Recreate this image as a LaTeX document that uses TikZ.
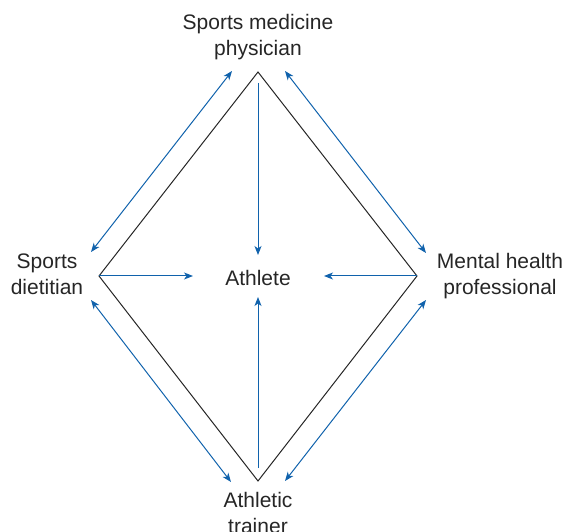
\documentclass[tikz,border=0pt]{standalone}
\usepackage{fontspec}
\setmainfont{Liberation Sans}
\usepackage{tikz}
\usetikzlibrary{arrows.meta}
\definecolor{linkcolor}{RGB}{16,98,172}

\tikzset{
  role/.style={align=center, inner sep=0pt, text=black!85,
    font=\fontsize{21}{26}\selectfont},
  link/.style={linkcolor, line width=1pt,
    -{Stealth[length=9pt,width=7pt,inset=2.5pt]}},
  twoway/.style={link, {Stealth[length=9pt,width=7pt,inset=2.5pt]}-{Stealth[length=9pt,width=7pt,inset=2.5pt]}}
}

\begin{document}
\begin{tikzpicture}[x=1pt,y=-1pt]
    \useasboundingbox (0,0) rectangle (566,532);
    % corners of the diamond
    \coordinate (top) at (258,72);
    \coordinate (left) at (99,276);
    \coordinate (right) at (417,276);
    \coordinate (bottom) at (258,481);
    \draw[black!85, line width=1pt, line join=miter] (top) -- (right) -- (bottom) -- (left) -- cycle;
    % the team around the athlete
    \node[role] (physician) at (258,37.5) {Sports medicine\\physician};
    \node[role] (dietitian) at (47,274.4) {Sports\\dietitian};
    \node[role] (mental) at (500,276.2) {Mental health\\professional};
    \node[role] (athlete) at (258,278.3) {Athlete};
    \node[role] (trainer) at (258,512.7) {Athletic\\trainer};
    % ends of the inner arrows
    \coordinate (topstart) at (258,83);
    \coordinate (toptip) at (258,255);
    \coordinate (lefttip) at (193,276);
    \coordinate (righttip) at (324,276);
    \coordinate (bottomstart) at (258,468);
    \coordinate (bottomtip) at (258,297);
    \draw[link] (topstart) -- (toptip);
    \draw[link] (left) -- (lefttip);
    \draw[link] (right) -- (righttip);
    \draw[link] (bottomstart) -- (bottomtip);
    % two-way arrows along the sides
    \coordinate (nw1) at (91,252);
    \coordinate (nw2) at (232,71);
    \coordinate (ne1) at (285,71);
    \coordinate (ne2) at (426,253);
    \coordinate (sw1) at (91,300);
    \coordinate (sw2) at (231,482);
    \coordinate (se1) at (285,481);
    \coordinate (se2) at (426,300);
    \draw[twoway] (nw1) -- (nw2);
    \draw[twoway] (ne1) -- (ne2);
    \draw[twoway] (sw1) -- (sw2);
    \draw[twoway] (se1) -- (se2);
\end{tikzpicture}
\end{document}
